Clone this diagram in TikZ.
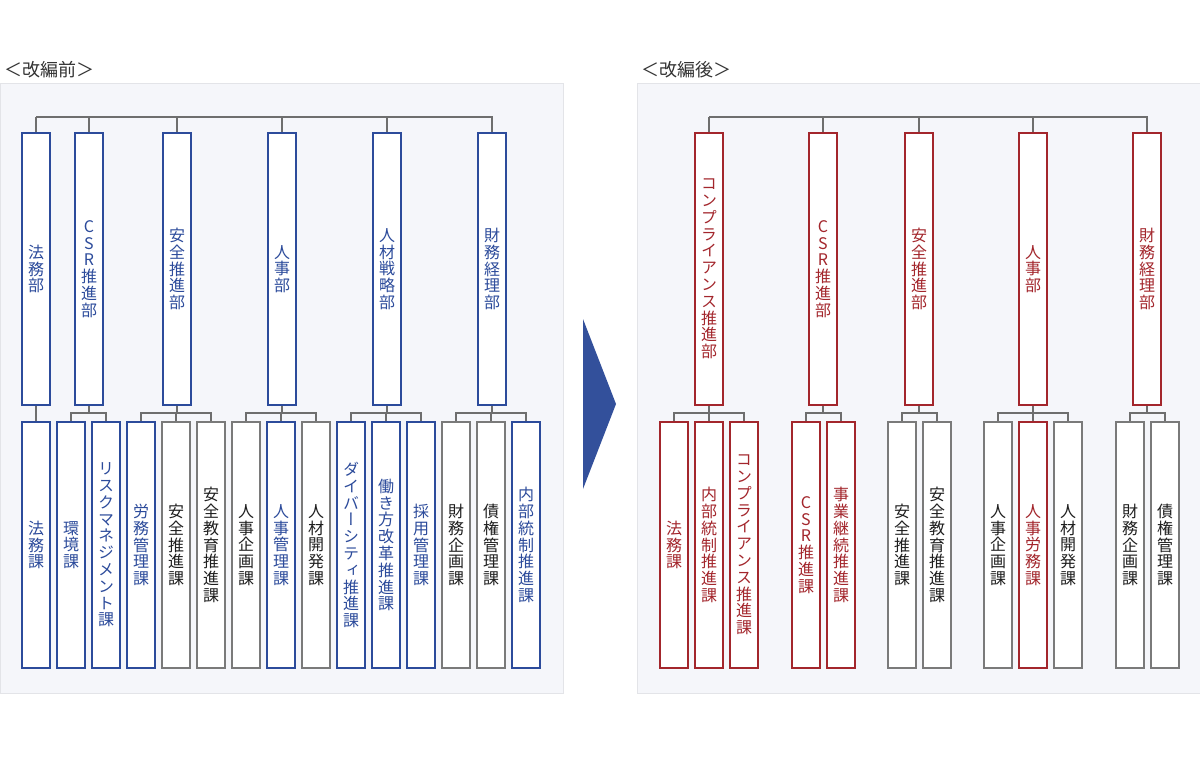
\documentclass[tikz,border=0pt]{standalone}
\usepackage{fontspec}
\setmainfont{Noto Sans CJK JP}
\newfontfamily\jpv[RawFeature=+vert]{Noto Sans CJK JP}
\definecolor{cblue}{HTML}{2C4B9B}
\definecolor{cred}{HTML}{A3262C}
\definecolor{cgray}{HTML}{7A7A7A}
\definecolor{ctext}{HTML}{1E1E1E}
\definecolor{cline}{HTML}{6E6E6E}
\definecolor{cpanel}{HTML}{F5F6FA}
\definecolor{cpborder}{HTML}{E3E4E8}
\definecolor{carrow}{HTML}{33509B}
\definecolor{ctitle}{HTML}{333333}
\tikzset{
  box/.style={draw, fill=white, minimum width=28pt, inner sep=0pt, align=center,
    font=\jpv\fontsize{16}{16.8}\selectfont},
  tall/.style={box, minimum height=272pt},
  short/.style={box, minimum height=246pt},
  bl/.style={draw=cblue, text=cblue, line width=2pt},
  rd/.style={draw=cred, text=cred, line width=2pt},
  gr/.style={draw=cgray, text=ctext, line width=1.6pt},
  conn/.style={draw=cline, line width=1.5pt},
  panel/.style={fill=cpanel, draw=cpborder, line width=1pt},
  title/.style={anchor=west, text=ctitle, font=\fontsize{18}{20}\selectfont, inner sep=0pt}
}
\begin{document}
\begin{tikzpicture}[x=1pt,y=-1pt]
\useasboundingbox (0,0) rectangle (1200,756);
\fill[white] (0,0) rectangle (1200,756);
% panels
\draw[panel] (0.5,83) rectangle (563,693);
\draw[panel] (637,83) rectangle (1200.5,693);
\node[title] (t1) at (4,70) {＜改編前＞};
\node[title] (t2) at (641,70) {＜改編後＞};
% arrow
\fill[carrow] (583,319) -- (616,404) -- (583,489) -- cycle;

% ---------- left: before ----------
\node[tall,bl] (LA) at (36,269) {法\\務\\部};
\node[tall,bl] (LB) at (89,269) {C\\S\\R\\推\\進\\部};
\node[tall,bl] (LC) at (177,269) {安\\全\\推\\進\\部};
\node[tall,bl] (LD) at (282,269) {人\\事\\部};
\node[tall,bl] (LE) at (387,269) {人\\材\\戦\\略\\部};
\node[tall,bl] (LF) at (492,269) {財\\務\\経\\理\\部};
\coordinate (LBus) at (36,117);
\foreach \t in {LA,LB,LC,LD,LE,LF} \draw[conn] (\t.north) |- (LBus);

\node[short,bl] (La1) at (36,545) {法\\務\\課};
\node[short,bl] (Lb1) at (71,545) {環\\境\\課};
\node[short,bl] (Lb2) at (106,545) {リ\\ス\\ク\\マ\\ネ\\ジ\\メ\\ン\\ト\\課};
\node[short,bl] (Lc1) at (141,545) {労\\務\\管\\理\\課};
\node[short,gr] (Lc2) at (176,545) {安\\全\\推\\進\\課};
\node[short,gr] (Lc3) at (211,545) {安\\全\\教\\育\\推\\進\\課};
\node[short,gr] (Ld1) at (246,545) {人\\事\\企\\画\\課};
\node[short,bl] (Ld2) at (281,545) {人\\事\\管\\理\\課};
\node[short,gr] (Ld3) at (316,545) {人\\材\\開\\発\\課};
\node[short,bl] (Le1) at (351,545) {ダ\\イ\\バ\\ー\\シ\\テ\\ィ\\推\\進\\課};
\node[short,bl] (Le2) at (386,545) {働\\き\\方\\改\\革\\推\\進\\課};
\node[short,bl] (Le3) at (421,545) {採\\用\\管\\理\\課};
\node[short,gr] (Lf1) at (456,545) {財\\務\\企\\画\\課};
\node[short,gr] (Lf2) at (491,545) {債\\権\\管\\理\\課};
\node[short,bl] (Lf3) at (526,545) {内\\部\\統\\制\\推\\進\\課};

\foreach \c/\p in {La1/LA, Lb1/LB, Lb2/LB, Lc1/LC, Lc2/LC, Lc3/LC,
  Ld1/LD, Ld2/LD, Ld3/LD, Le1/LE, Le2/LE, Le3/LE, Lf1/LF, Lf2/LF, Lf3/LF}
  \draw[conn] (\c.north) -- ++(0,-8) -| (\p.south);

% ---------- right: after ----------
\node[tall,rd] (RA) at (709,269) {コ\\ン\\プ\\ラ\\イ\\ア\\ン\\ス\\推\\進\\部};
\node[tall,rd] (RB) at (823,269) {C\\S\\R\\推\\進\\部};
\node[tall,rd] (RC) at (919,269) {安\\全\\推\\進\\部};
\node[tall,rd] (RD) at (1033,269) {人\\事\\部};
\node[tall,rd] (RE) at (1147,269) {財\\務\\経\\理\\部};
\coordinate (RBus) at (709,117);
\foreach \t in {RA,RB,RC,RD,RE} \draw[conn] (\t.north) |- (RBus);

\node[short,rd] (Ra1) at (674,545) {法\\務\\課};
\node[short,rd] (Ra2) at (709,545) {内\\部\\統\\制\\推\\進\\課};
\node[short,rd] (Ra3) at (744,545) {コ\\ン\\プ\\ラ\\イ\\ア\\ン\\ス\\推\\進\\課};
\node[short,rd] (Rb1) at (806,545) {C\\S\\R\\推\\進\\課};
\node[short,rd] (Rb2) at (841,545) {事\\業\\継\\続\\推\\進\\課};
\node[short,gr] (Rc1) at (902,545) {安\\全\\推\\進\\課};
\node[short,gr] (Rc2) at (937,545) {安\\全\\教\\育\\推\\進\\課};
\node[short,gr] (Rd1) at (998,545) {人\\事\\企\\画\\課};
\node[short,rd] (Rd2) at (1033,545) {人\\事\\労\\務\\課};
\node[short,gr] (Rd3) at (1068,545) {人\\材\\開\\発\\課};
\node[short,gr] (Re1) at (1130,545) {財\\務\\企\\画\\課};
\node[short,gr] (Re2) at (1165,545) {債\\権\\管\\理\\課};

\foreach \c/\p in {Ra1/RA, Ra2/RA, Ra3/RA, Rb1/RB, Rb2/RB, Rc1/RC, Rc2/RC,
  Rd1/RD, Rd2/RD, Rd3/RD, Re1/RE, Re2/RE}
  \draw[conn] (\c.north) -- ++(0,-8) -| (\p.south);
\end{tikzpicture}
\end{document}
